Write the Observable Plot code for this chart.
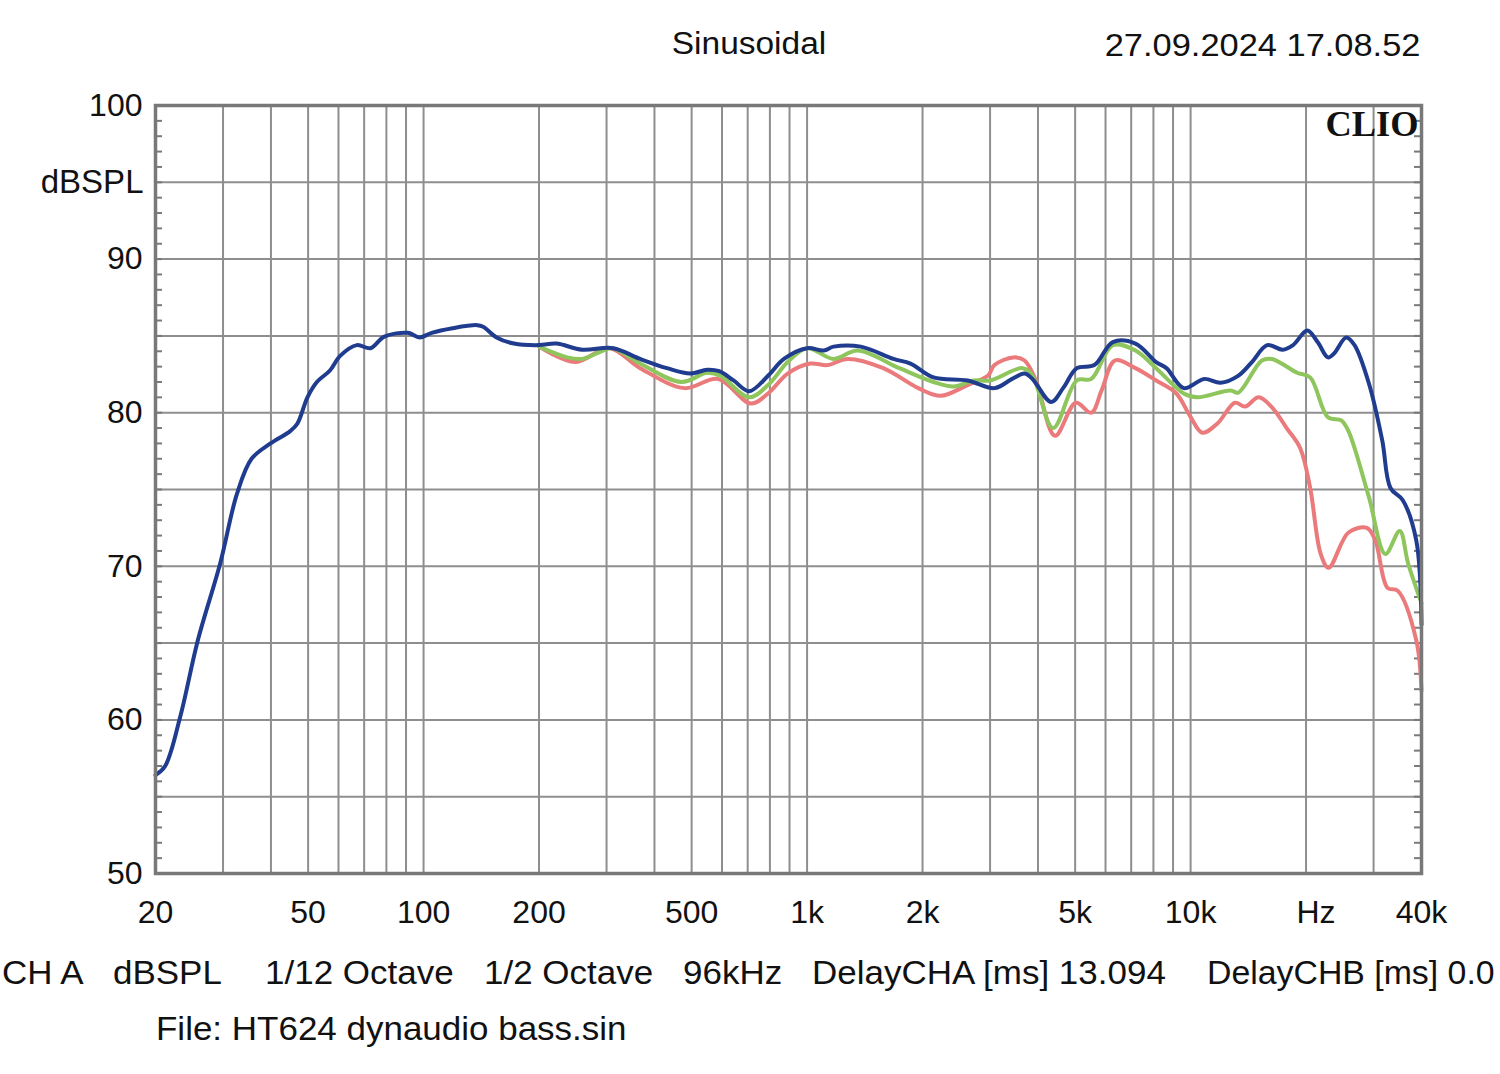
<!DOCTYPE html>
<html>
<head>
<meta charset="utf-8">
<script src="https://cdn.jsdelivr.net/npm/d3@7"></script>
<script src="https://cdn.jsdelivr.net/npm/@observablehq/plot@0.6"></script>
<style>
  html, body { margin: 0; padding: 0; background: #fff; }
  #wrap { position: relative; width: 1500px; height: 1074px; overflow: hidden; font-family: "Liberation Sans", Arial, sans-serif; color: #111; }
  .t { position: absolute; white-space: nowrap; line-height: 1; }
  .info { font-size: 33px; top: 956px; transform-origin: left; transform: scaleX(1.06); }
  #chart { position: absolute; left: 0; top: 0; }
</style>
</head>
<body>
<div id="wrap">
  <div id="chart"></div>
  <div class="t" id="title" style="font-size:31px; left:749px; top:28px; transform:translateX(-50%) scaleX(1.08);">Sinusoidal</div>
  <div class="t" id="date" style="font-size:31px; right:80px; top:30px; transform-origin:right; transform:scaleX(1.11);">27.09.2024 17.08.52</div>
  <div class="t" id="clio" style="font-family:'Liberation Serif','Times New Roman',serif; font-weight:bold; font-size:35px; right:82px; top:107px; transform-origin:right; transform:scaleX(1.04);">CLIO</div>
  <div class="t info" style="left:2px;">CH A</div>
  <div class="t info" style="left:113px;">dBSPL</div>
  <div class="t info" style="left:265px;">1/12 Octave</div>
  <div class="t info" style="left:484px;">1/2 Octave</div>
  <div class="t info" style="left:683px;">96kHz</div>
  <div class="t info" style="left:812px;">DelayCHA [ms] 13.094</div>
  <div class="t info" style="left:1207px; transform:scaleX(1.025);">DelayCHB [ms] 0.0</div>
  <div class="t" id="file" style="font-size:33px; left:156px; top:1012px; transform-origin:left; transform:scaleX(1.06);">File: HT624 dynaudio bass.sin</div>
</div>
<script>
// ---- Data (frequency in Hz, level in dBSPL) ----
const freqBlue = [20,21.2,23.2,25.8,29.5,32.6,35.6,39.9,44.9,46.9,49.8,52.7,57,60.6,67,72.7,79,91,97.6,105,119,138,143,155,172,200,222,259,312,367,431,496,549,590,643,706,791,870,1000,1105,1173,1380,1680,1860,2135,2620,3080,3425,3690,3870,4330,4665,5050,5610,6270,7180,8130,8650,9600,10850,11970,13300,14450,15840,17380,18500,20150,21440,22800,23650,25450,26760,29170,31600,33200,35750,38750,40000];
const dbBlue   = [56.4,57.0,60.2,65.2,70.2,74.7,77.0,78.0,78.8,79.3,81.0,82.0,82.75,83.7,84.4,84.2,84.95,85.2,84.9,85.2,85.5,85.7,85.6,84.9,84.5,84.4,84.5,84.1,84.2,83.5,82.9,82.55,82.8,82.7,82.1,81.4,82.4,83.5,84.2,84.05,84.3,84.3,83.5,83.2,82.3,82.1,81.6,82.2,82.55,82.2,80.7,81.65,82.9,83.1,84.6,84.5,83.3,82.9,81.6,82.2,81.95,82.4,83.3,84.4,84.1,84.4,85.35,84.6,83.6,83.85,84.9,84.4,81.9,78.2,75.1,74.3,71.7,66.2];

const freqGreen = [200,237,259,294,312,367,470,549,595,706,791,890,1000,1173,1355,1740,2135,2410,2720,3000,3650,3870,4380,5050,5510,6270,7180,8130,9600,10400,12700,13300,15340,16300,18950,20500,22800,24700,25800,29170,32200,35100,36900,40000];
const dbGreen   = [84.3,83.6,83.5,84.05,84.2,83.2,82.0,82.6,82.4,81.0,81.8,83.3,84.2,83.5,84.05,82.9,82.0,81.7,82.1,82.1,82.9,82.4,79.0,82.1,82.2,84.4,84.05,82.9,81.25,81.0,81.45,81.3,83.4,83.5,82.6,82.3,79.7,79.5,78.8,74.5,70.8,72.3,70.2,67.6];

const freqRed = [200,248,305,367,479,585,714,791,890,1020,1130,1275,1580,1950,2230,2620,2960,3080,3450,3690,3950,4430,5020,5510,5860,6350,7180,8130,9180,9960,10730,11750,13050,13870,15050,16300,17800,19300,20500,21840,22900,25800,28800,30300,32600,34700,38750,40000];
const dbRed   = [84.3,83.3,84.2,82.9,81.6,82.2,80.6,81.25,82.55,83.2,83.1,83.5,82.9,81.6,81.1,81.8,82.4,83.1,83.6,83.4,82.1,78.5,80.65,80.0,81.45,83.4,82.9,82.1,81.25,79.8,78.7,79.3,80.65,80.4,81.0,80.35,79.0,77.7,75.1,70.8,69.9,72.2,72.5,71.7,68.6,68.4,65.2,61.9];

// ---- Axes / grid ----
const xTicks = [20,50,100,200,500,1000,2000,5000,10000,40000];
const xTickLabels = ["20","50","100","200","500","1k","2k","5k","10k","40k"];
const xUnitTick = [20000];
const xUnitLabel = ["Hz"];
const xGrid = [30,40,50,60,70,80,90,100,200,300,400,500,600,700,800,900,1000,2000,3000,4000,5000,6000,7000,8000,9000,10000,20000,30000];
const yTicks = [100,90,80,70,60,50];
const yTickLabels = ["100","90","80","70","60","50"];
const yUnitTick = [95];
const yUnitLabel = ["dBSPL"];
const yGrid = [55,60,65,70,75,80,85,90,95];
const yMinor = d3.range(51,100);

const seriesNames = ["ch1","ch2","ch3"];
const seriesColors = ["#ea7a7b","#8ec55c","#1f3c8f"];

const rows = [];
freqRed.forEach((f,i)=>rows.push({f, db: dbRed[i], s: "ch1"}));
freqGreen.forEach((f,i)=>rows.push({f, db: dbGreen[i], s: "ch2"}));
freqBlue.forEach((f,i)=>rows.push({f, db: dbBlue[i], s: "ch3"}));

const W = 1500, H = 940, mL = 155, mR = 79, mT = 105, mB = 67;
const innerW = W - mL - mR;

const chart = Plot.plot({
  width: W, height: H,
  marginLeft: mL, marginRight: mR, marginTop: mT, marginBottom: mB,
  style: {fontFamily: "'Liberation Sans', Arial, sans-serif", color: "#111", background: "transparent"},
  x: {type: "log", domain: [20, 40000], axis: null},
  y: {domain: [50, 100], axis: null},
  color: {domain: seriesNames, range: seriesColors},
  marks: [
    Plot.ruleX(xGrid, {stroke: "#8e8e8e", strokeWidth: 2}),
    Plot.ruleY(yGrid, {stroke: "#8e8e8e", strokeWidth: 2}),
    Plot.tickY(yMinor, {y: d => d, insetRight: innerW - 7, stroke: "#7a7a7a", strokeWidth: 2}),
    Plot.tickY(yMinor, {y: d => d, insetLeft: innerW - 7, stroke: "#7a7a7a", strokeWidth: 2}),
    Plot.line(rows, {x: "f", y: "db", z: "s", stroke: "s", strokeWidth: 4, curve: "catmull-rom"}),
    Plot.frame({stroke: "#787878", strokeWidth: 3.5}),
    Plot.text(xTicks, {x: d => d, text: (d, i) => xTickLabels[i], frameAnchor: "bottom", dy: 39, lineAnchor: "middle", fontSize: 32, fill: "#111"}),
    Plot.text(xUnitTick, {x: d => d, text: (d, i) => xUnitLabel[i], frameAnchor: "bottom", dy: 39, dx: 10, lineAnchor: "middle", fontSize: 32, fill: "#111"}),
    Plot.text(yTicks, {y: d => d, text: (d, i) => yTickLabels[i], frameAnchor: "left", textAnchor: "end", dx: -13, fontSize: 32, fill: "#111"}),
    Plot.text(yUnitTick, {y: d => d, text: (d, i) => yUnitLabel[i], frameAnchor: "left", textAnchor: "end", dx: -12, fontSize: 33, fill: "#111"})
  ]
});
document.getElementById("chart").appendChild(chart);
</script>
</body>
</html>
